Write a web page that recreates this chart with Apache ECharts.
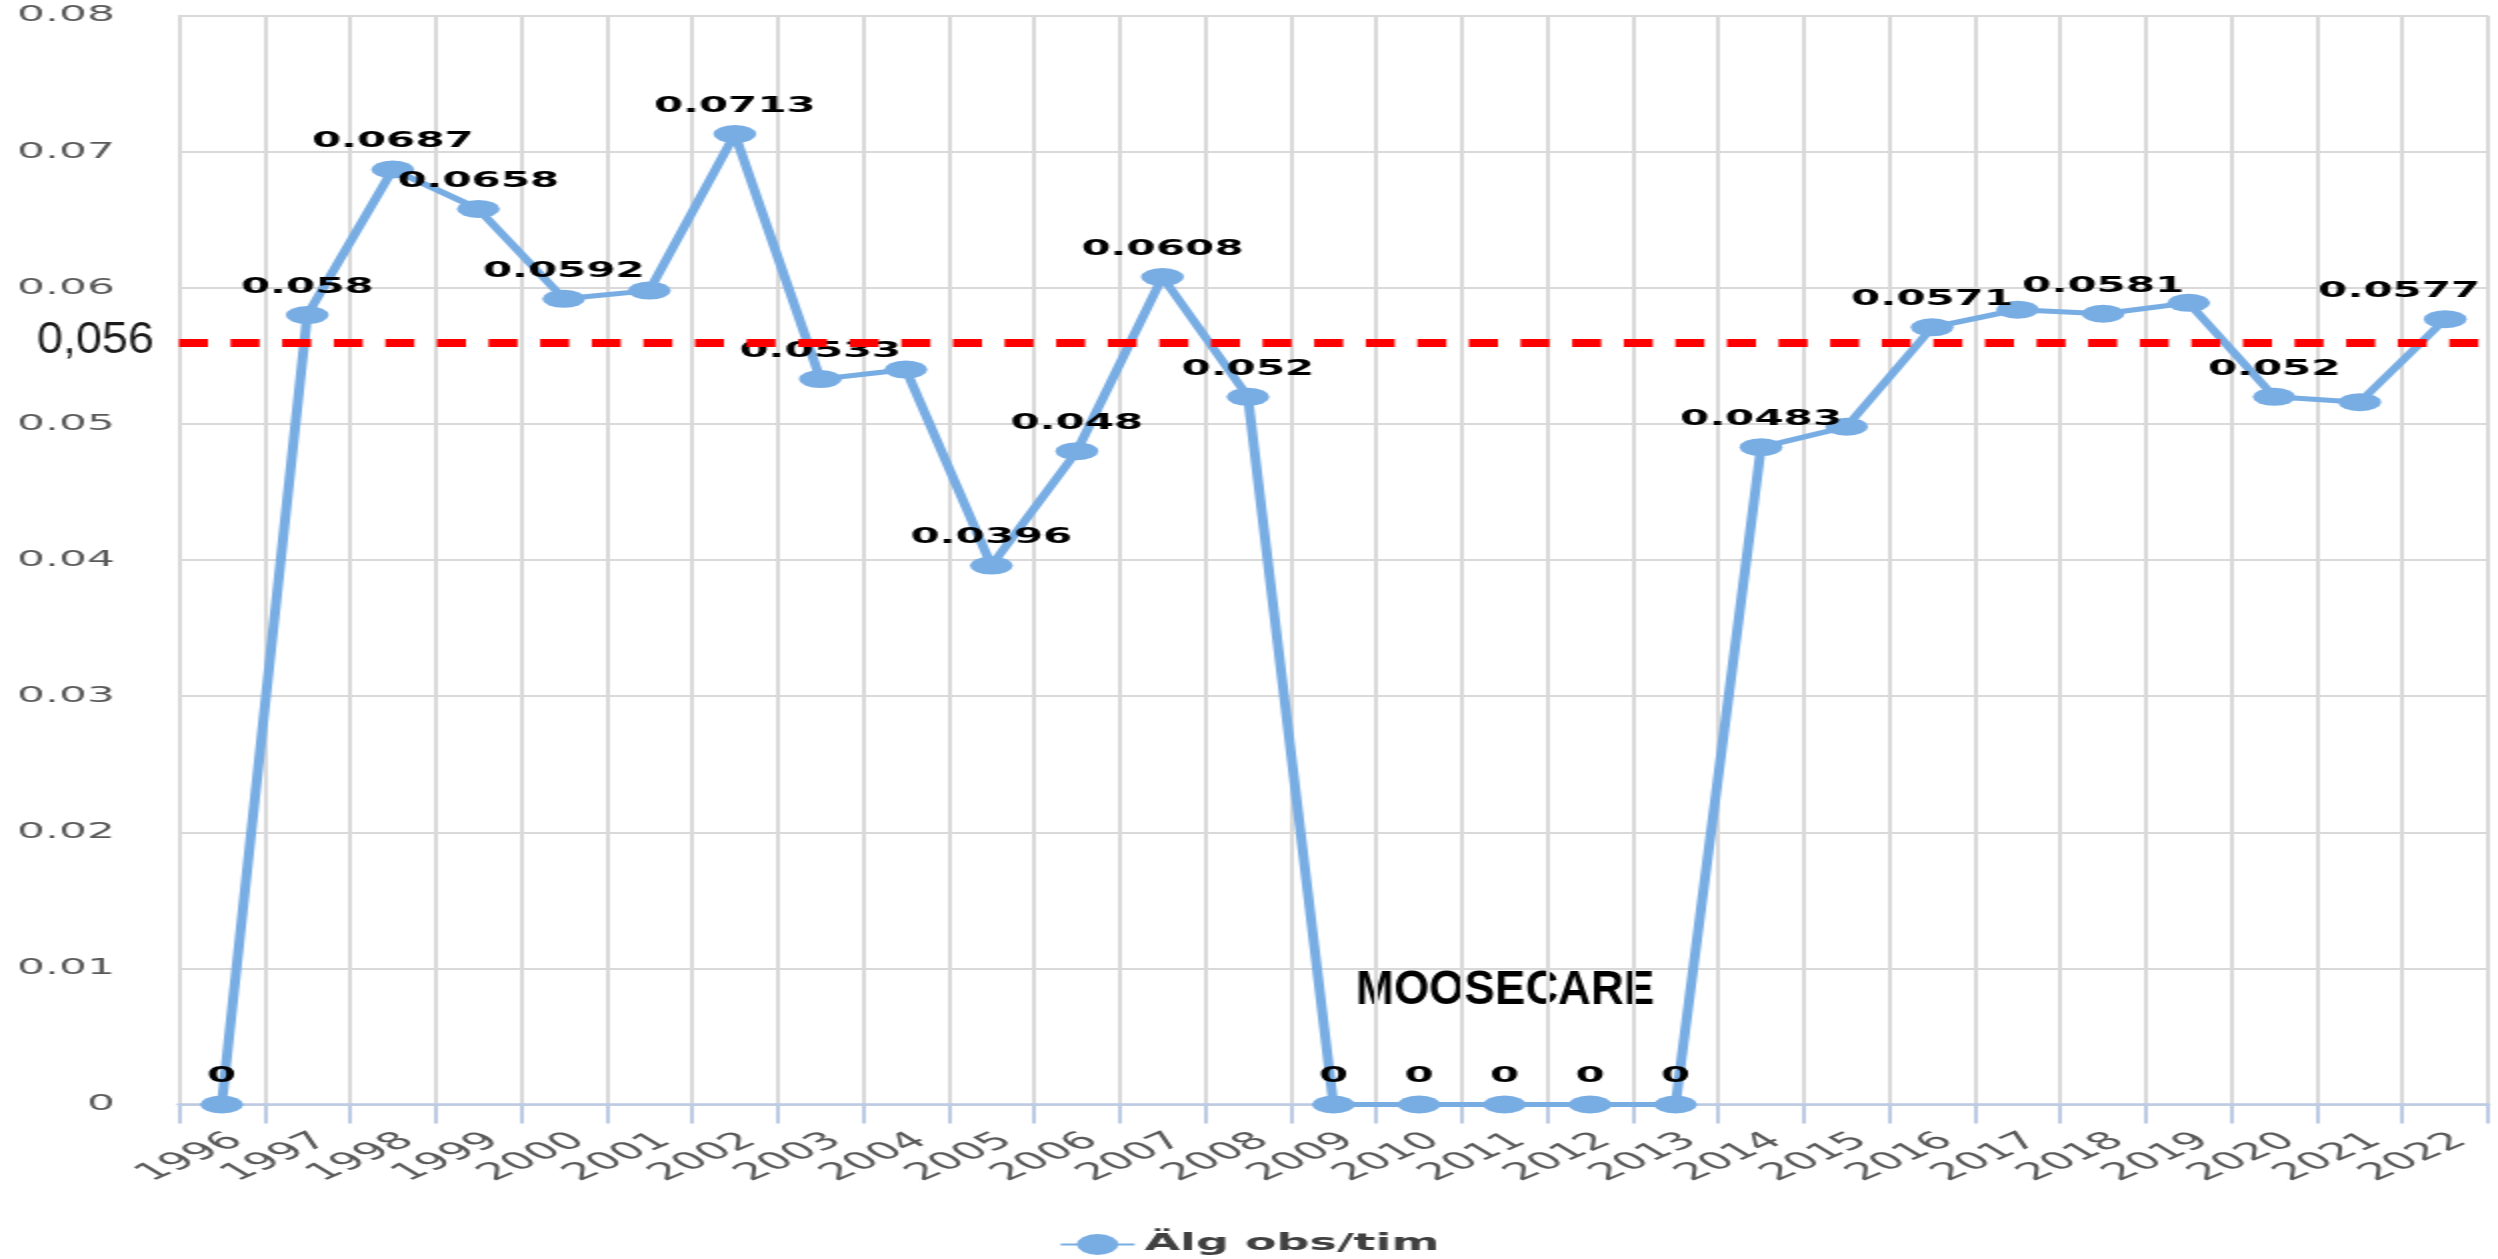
<!DOCTYPE html>
<html>
<head>
<meta charset="utf-8">
<title>Älg obs/tim</title>
<script src="https://cdn.jsdelivr.net/npm/echarts/dist/echarts.min.js"></script>
<style>
  html, body {
    margin: 0;
    padding: 0;
    background: #fff;
    overflow: hidden;
  }
  /* the original picture is stretched sideways, so the chart is drawn narrow and widened */
  #chart {
    width: 1249px;
    height: 1259px;
    transform: scaleX(2);
    transform-origin: 0 0;
  }
</style>
</head>
<body>
<div id="chart"></div>
<script>
const years = ['1996', '1997', '1998', '1999', '2000', '2001', '2002', '2003', '2004', '2005', '2006', '2007', '2008', '2009',
  '2010', '2011', '2012', '2013', '2014', '2015', '2016', '2017', '2018', '2019', '2020', '2021', '2022']
const obsPerHour = [0, 0.058, 0.0687, 0.0658, 0.0592, 0.0598, 0.0713, 0.0533, 0.054, 0.0396, 0.048, 0.0608, 0.052, 0,
  0, 0, 0, 0, 0.0483, 0.0498, 0.0571, 0.0584, 0.0581, 0.0589, 0.052, 0.0516, 0.0577]
// years whose value has no label in the original
const unlabeledYears = ['2001', '2004', '2015', '2017', '2019', '2021']
const referenceLevel = 0.056
const referenceText = '0,056'
const noteText = 'MOOSECARE'
const seriesName = 'Älg obs/tim'

const ellipse = 'path://M0,50 A50,50 0 1,1 100,50 A50,50 0 1,1 0,50 Z'

const seriesData = years.map((year, i) => {
  const item = { value: obsPerHour[i] }
  if (unlabeledYears.includes(year)) {
    item.label = { show: false }
  }
  // last label is pulled left so it stays inside the picture
  if (i === years.length - 1) {
    item.label = { offset: [-23, 0] }
  }
  return item
})

const chart = echarts.init(document.getElementById('chart'))

chart.setOption({
  animation: false,
  textStyle: {
    fontFamily: 'DejaVu Sans'
  },
  grid: {
    left: 89.5,
    right: 5,
    top: 15.7,
    bottom: 154.5,
    containLabel: false
  },
  legend: {
    data: [seriesName],
    top: 1228,
    left: 'center',
    itemWidth: 37,
    itemHeight: 26,
    textStyle: {
      fontFamily: 'DejaVu Sans',
      fontWeight: 'bold',
      fontSize: 23,
      color: '#404040'
    }
  },
  xAxis: {
    type: 'category',
    data: years,
    boundaryGap: true,
    axisLine: {
      lineStyle: { color: '#BCCBE4', width: 2.5 }
    },
    axisTick: {
      show: true,
      length: 19,
      lineStyle: { color: '#BCCBE4', width: 2 }
    },
    axisLabel: {
      interval: 0,
      rotate: 40,
      margin: 24,
      verticalAlign: 'top',
      fontSize: 24,
      color: '#595959'
    },
    splitLine: {
      show: true,
      lineStyle: { color: '#D9D9D9', width: 2 }
    }
  },
  yAxis: {
    type: 'value',
    min: 0,
    max: 0.08,
    interval: 0.01,
    axisLine: {
      show: true,
      lineStyle: { color: '#D9D9D9', width: 2 }
    },
    axisTick: { show: false },
    axisLabel: {
      margin: 32,
      fontSize: 22,
      color: '#595959'
    },
    splitLine: {
      lineStyle: { color: '#D9D9D9', width: 2 }
    }
  },
  series: [
    {
      name: seriesName,
      type: 'line',
      data: seriesData,
      symbol: ellipse,
      symbolSize: [21.5, 18],
      showAllSymbol: true,
      lineStyle: { color: '#78ADE4', width: 5 },
      itemStyle: { color: '#78ADE4' },
      label: {
        show: true,
        position: 'top',
        distance: 8,
        fontFamily: 'DejaVu Sans',
        fontWeight: 'bold',
        fontSize: 21,
        color: '#000'
      },
      markLine: {
        silent: true,
        symbol: 'none',
        precision: 4,
        label: { show: false },
        lineStyle: {
          color: '#FF0000',
          width: 8,
          type: [14.5, 11.3]
        },
        data: [{ yAxis: referenceLevel }]
      }
    }
  ],
  graphic: [
    {
      // pasted-on texts are not stretched, so squeeze them back
      type: 'text',
      x: 18.5,
      y: 341,
      scaleX: 0.53,
      style: {
        text: referenceText,
        font: '44px "Liberation Sans"',
        fill: '#1a1a1a',
        verticalAlign: 'middle'
      }
    },
    {
      type: 'text',
      x: 678,
      y: 990,
      scaleX: 0.464,
      style: {
        text: noteText,
        font: 'bold 49px "Liberation Sans"',
        fill: '#000',
        verticalAlign: 'middle'
      }
    }
  ]
})
</script>
</body>
</html>
